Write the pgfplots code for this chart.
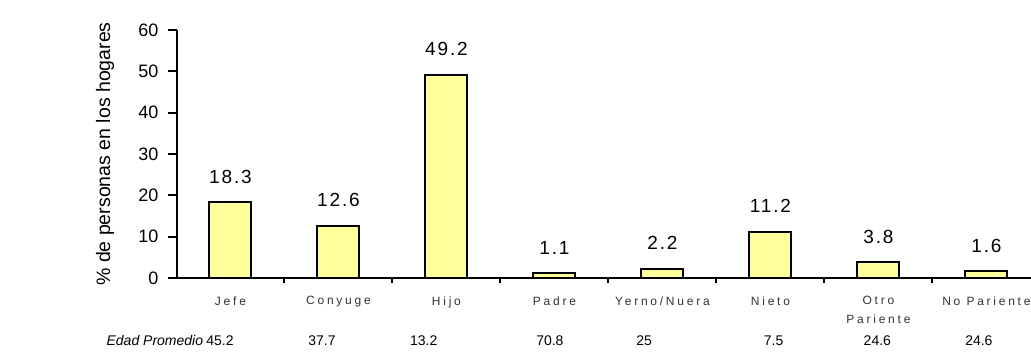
\documentclass[border=0pt]{standalone}
\usepackage{fontspec}
\setmainfont{Liberation Sans}
\newfontfamily\spaced[LetterSpace=23]{Liberation Sans}
\newfontfamily\valfont[LetterSpace=10]{Liberation Sans}
\usepackage{pgfplots}
\pgfplotsset{compat=1.18}
\definecolor{baryellow}{HTML}{FFFF99}
\definecolor{labgray}{HTML}{333333}
\begin{document}
\begin{tikzpicture}
\path[use as bounding box] (-177pt,-74pt) rectangle (854pt,278pt);
\begin{axis}[
  at={(0,0)}, anchor=south west,
  scale only axis, width=853.7pt, height=248pt,
  xmin=-0.495, xmax=7.41, ymin=0, ymax=60,
  axis x line=bottom, axis y line=left,
  axis line style={line width=2pt, -},
  clip=false,
  /pgf/number format/assume math mode=true,
  ytick={0,10,...,60},
  yticklabel style={font=\fontsize{18}{21}\selectfont, text=black, xshift=-6pt},
  xtick={0,...,7},
  xticklabels={Jefe,Conyuge,Hijo,Padre,Yerno/Nuera,Nieto,Otro\\Pariente,No Pariente},
  xticklabel style={font=\spaced\fontsize{12}{19}\selectfont, text=labgray, align=center, yshift=-6pt},
  major x tick style={draw=none},
  minor xtick={-0.5,0.5,...,6.5},
  tick align=outside,
  every tick/.style={black, line width=2pt},
  major tick length=9pt,
  minor tick length=5pt,
  ylabel={\% de personas en los hogares},
  every axis y label/.style={at={(axis description cs:0,0.5)}, xshift=-72pt, rotate=90, anchor=center, font=\fontsize{19.5}{22}\selectfont, text=black},
  ybar, bar width=42pt,
  nodes near coords,
  every node near coord/.append style={font=\valfont\fontsize{19}{22}\selectfont, text=black, anchor=south, inner sep=0pt, yshift=18pt},
]
\addplot[draw=black, line width=2pt, fill=baryellow] coordinates {
  (0,18.3) (1,12.6) (2,49.2) (3,1.1) (4,2.2) (5,11.2) (6,3.8) (7,1.6)
};
\node[font=\itshape\fontsize{14}{16}\selectfont, text=black] at (axis cs:-0.70,-15.2) {Edad Promedio};
\node[font=\fontsize{14}{16}\selectfont, text=black] at (axis cs:-0.097,-15.2) {45.2};
\node[font=\fontsize{14}{16}\selectfont, text=black] at (axis cs:0.847,-15.2) {37.7};
\node[font=\fontsize{14}{16}\selectfont, text=black] at (axis cs:1.79,-15.2) {13.2};
\node[font=\fontsize{14}{16}\selectfont, text=black] at (axis cs:2.958,-15.2) {70.8};
\node[font=\fontsize{14}{16}\selectfont, text=black] at (axis cs:3.83,-15.2) {25};
\node[font=\fontsize{14}{16}\selectfont, text=black] at (axis cs:5.03,-15.2) {7.5};
\node[font=\fontsize{14}{16}\selectfont, text=black] at (axis cs:5.99,-15.2) {24.6};
\node[font=\fontsize{14}{16}\selectfont, text=black] at (axis cs:6.93,-15.2) {24.6};
\end{axis}
\end{tikzpicture}
\end{document}
